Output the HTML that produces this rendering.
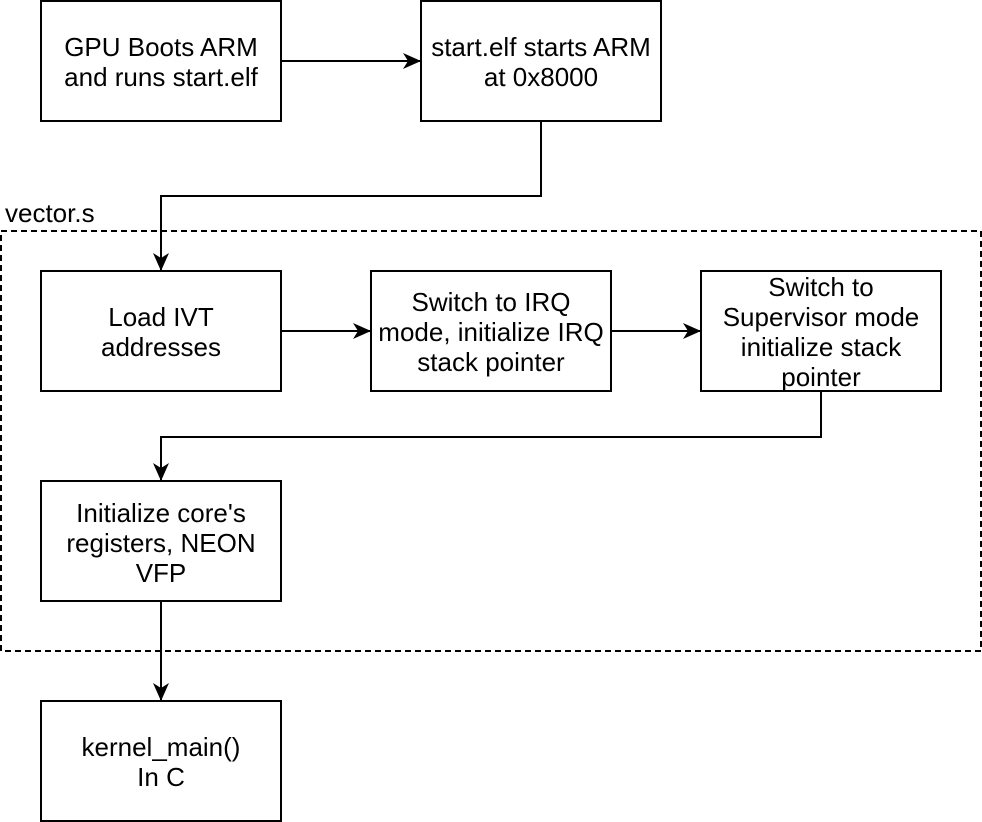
<!DOCTYPE html>
<html><head><meta charset="utf-8"><style>
html,body{margin:0;padding:0;background:#fff;}
svg{display:block;}
</style></head><body>
<svg width="982" height="822" viewBox="0 0 982 822" xmlns="http://www.w3.org/2000/svg">
<defs>
<marker id="a" markerWidth="18" markerHeight="18" refX="17" refY="9" orient="auto" markerUnits="userSpaceOnUse">
<path d="M0,1 L18,9 L0,17 L5,9 Z" fill="#000"/>
</marker>
</defs>
<g fill="none" stroke="#000" stroke-width="2">
<rect x="1" y="231" width="980" height="420" stroke-dasharray="6,4"/>
<rect x="41" y="1" width="240" height="120"/>
<rect x="421" y="1" width="240" height="120"/>
<rect x="41" y="271" width="240" height="120"/>
<rect x="371" y="271" width="240" height="120"/>
<rect x="701" y="271" width="240" height="120"/>
<rect x="41" y="481" width="240" height="120"/>
<rect x="41" y="701" width="240" height="120"/>
<path d="M281,61 L420,61" marker-end="url(#a)"/>
<path d="M541,121 L541,196 L161,196 L161,270" marker-end="url(#a)"/>
<path d="M281,331 L370,331" marker-end="url(#a)"/>
<path d="M611,331 L700,331" marker-end="url(#a)"/>
<path d="M821,391 L821,437 L161,437 L161,480" marker-end="url(#a)"/>
<path d="M161,601 L161,700" marker-end="url(#a)"/>
</g>
<g font-family="Liberation Sans, Helvetica, Arial, sans-serif" font-size="26" fill="#000" text-anchor="middle">
<text x="5" y="222" text-anchor="start">vector.s</text>
<text x="161" y="56">GPU Boots ARM</text>
<text x="161" y="86">and runs start.elf</text>
<text x="541" y="56">start.elf starts ARM</text>
<text x="541" y="86">at 0x8000</text>
<text x="161" y="326">Load IVT</text>
<text x="161" y="356">addresses</text>
<text x="491" y="311">Switch to IRQ</text>
<text x="491" y="341">mode, initialize IRQ</text>
<text x="491" y="371">stack pointer</text>
<text x="821" y="296">Switch to</text>
<text x="821" y="326">Supervisor mode</text>
<text x="821" y="356">initialize stack</text>
<text x="821" y="386">pointer</text>
<text x="161" y="522">Initialize core's</text>
<text x="161" y="552">registers, NEON</text>
<text x="161" y="582">VFP</text>
<text x="161" y="756">kernel_main()</text>
<text x="161" y="786">In C</text>
</g>
</svg>
</body></html>
